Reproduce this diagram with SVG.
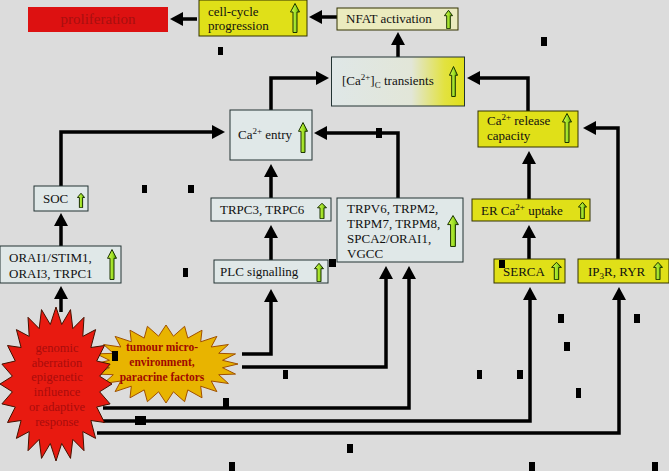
<svg xmlns="http://www.w3.org/2000/svg" xmlns:xlink="http://www.w3.org/1999/xlink" width="669" height="471" viewBox="0 0 669 471">
<defs>
<style>
.t{font-family:"Liberation Serif","Times New Roman",serif;font-size:13px;fill:#111}
.lb{fill:#e0e8e8;stroke:#223333;stroke-width:1}
.yb{fill:#e0e018;stroke:#333300;stroke-width:1}
.c{fill:none;stroke:#000;stroke-width:3.5;marker-end:url(#ah)}
.n{fill:#000}
.rt{font-family:"Liberation Serif","Times New Roman",serif;font-size:12.5px;fill:#a80c0c;text-anchor:middle}
.ot{font-family:"Liberation Serif","Times New Roman",serif;font-size:11.5px;font-weight:bold;fill:#a00800;text-anchor:middle}
</style>
<marker id="ah" markerUnits="userSpaceOnUse" markerWidth="14" markerHeight="14" refX="9" refY="7" orient="auto">
<path d="M0,0 L13,7 L0,14 Z" fill="#000"/>
</marker>
<linearGradient id="gg" x1="0" y1="0" x2="1" y2="0">
<stop offset="0" stop-color="#ddff55"/>
<stop offset="0.6" stop-color="#99dd22"/>
<stop offset="1" stop-color="#448800"/>
</linearGradient>
<linearGradient id="tg" x1="0" y1="0" x2="1" y2="0">
<stop offset="0" stop-color="#dfe7e7"/>
<stop offset="0.6" stop-color="#e2e6d8"/>
<stop offset="0.85" stop-color="#e2e240"/>
<stop offset="1" stop-color="#e0e018"/>
</linearGradient>
<symbol id="up" viewBox="0 0 10 30" preserveAspectRatio="none">
<path d="M5,0.5 L9.5,9 L7,9 L7,29.5 L3,29.5 L3,9 L0.5,9 Z" fill="url(#gg)" stroke="#1a3300" stroke-width="1" vector-effect="non-scaling-stroke"/>
</symbol>
</defs>
<rect x="0" y="0" width="669" height="471" fill="#dcdcdc"/>

<g id="connectors">
<path class="c" d="M197,19 H174"/>
<path class="c" d="M337,17 H313"/>
<path class="c" d="M398,57 V36"/>
<path class="c" d="M271,110 V78 H325"/>
<path class="c" d="M528,111 V78 H471"/>
<path class="c" d="M61,186 V132 H221"/>
<path class="c" d="M271,198 V168"/>
<path class="c" d="M398,198 V133 H318"/>
<path class="c" d="M271,260 V229"/>
<path class="c" d="M242,354 H271 V293"/>
<path class="c" d="M242,367 H386 V270"/>
<path class="c" d="M103,408 H409 V270"/>
<path class="c" d="M103,421 H530 V291"/>
<path class="c" d="M97,433 H619 V291"/>
<path class="c" d="M61,312 V290"/>
<path class="c" d="M61,246 V217"/>
<path class="c" d="M529,259 V229"/>
<path class="c" d="M529,199 V155"/>
<path class="c" d="M618,259 V128 H587"/>
</g>

<g id="proliferation">
<rect x="28" y="7" width="140" height="25" fill="#dd1111"/>
<text x="98" y="24" style="font-family:'Liberation Serif',serif;font-size:15px;fill:#a80f0f;text-anchor:middle">proliferation</text>
</g>

<g id="cellcycle">
<rect class="yb" x="199" y="0" width="108" height="36"/>
<text class="t" x="208" y="16">cell-cycle</text>
<text class="t" x="208" y="30">progression</text>
<use xlink:href="#up" x="290" y="3" width="10" height="30"/>
</g>

<g id="nfat">
<rect x="337" y="8" width="121" height="22" fill="#ebebbe" stroke="#333300" stroke-width="1"/>
<text class="t" x="346" y="23">NFAT activation</text>
<use xlink:href="#up" x="444" y="10" width="9" height="19"/>
</g>

<g id="transients">
<rect x="331.5" y="57" width="133" height="49" fill="url(#tg)" stroke="#223333" stroke-width="1"/>
<text class="t" x="342" y="85">[Ca<tspan font-size="9" dy="-5">2+</tspan><tspan dy="5">]</tspan><tspan font-size="9" dy="3">C</tspan><tspan dy="-3"> transients</tspan></text>
<use xlink:href="#up" x="449" y="66" width="9" height="31"/>
</g>

<g id="entry">
<rect class="lb" x="230" y="110" width="82" height="50"/>
<text class="t" x="238" y="139">Ca<tspan font-size="9" dy="-5">2+</tspan><tspan dy="5"> entry</tspan></text>
<use xlink:href="#up" x="298" y="122" width="10" height="31"/>
</g>

<g id="release">
<rect class="yb" x="478" y="111" width="100" height="36"/>
<text class="t" x="487" y="125">Ca<tspan font-size="9" dy="-5">2+</tspan><tspan dy="5"> release</tspan></text>
<text class="t" x="487" y="140">capacity</text>
<use xlink:href="#up" x="562" y="113" width="10" height="30"/>
</g>

<g id="soc">
<rect class="lb" x="34" y="186" width="54" height="25"/>
<text class="t" x="43" y="203">SOC</text>
<use xlink:href="#up" x="77" y="193" width="8" height="15"/>
</g>

<g id="trpc3">
<rect class="lb" x="211" y="198" width="120" height="23"/>
<text class="t" x="220" y="214">TRPC3, TRPC6</text>
<use xlink:href="#up" x="317" y="203" width="10" height="16"/>
</g>

<g id="trpv6">
<rect class="lb" x="337" y="198" width="126" height="64"/>
<text class="t" x="347" y="213">TRPV6, TRPM2,</text>
<text class="t" x="347" y="228">TRPM7, TRPM8,</text>
<text class="t" x="347" y="243">SPCA2/ORAI1,</text>
<text class="t" x="347" y="258">VGCC</text>
<use xlink:href="#up" x="447" y="215" width="12" height="32"/>
</g>

<g id="er">
<rect class="yb" x="472" y="199" width="118" height="22"/>
<text class="t" x="481" y="215">ER Ca<tspan font-size="9" dy="-5">2+</tspan><tspan dy="5"> uptake</tspan></text>
<use xlink:href="#up" x="578" y="202" width="9" height="17"/>
</g>

<g id="orai">
<rect class="lb" x="0" y="246" width="121" height="37"/>
<text class="t" x="9" y="262">ORAI1/STIM1,</text>
<text class="t" x="9" y="278">ORAI3, TRPC1</text>
<use xlink:href="#up" x="107" y="249" width="10" height="31"/>
</g>

<g id="plc">
<rect class="lb" x="214" y="260" width="114" height="23"/>
<text class="t" x="220" y="276">PLC signalling</text>
<use xlink:href="#up" x="314" y="263" width="10" height="19"/>
</g>

<g id="serca">
<rect class="yb" x="494" y="259" width="71" height="24"/>
<text class="t" x="503" y="276">SERCA</text>
<use xlink:href="#up" x="551" y="262" width="11" height="18"/>
</g>

<g id="ip3r">
<rect class="yb" x="578" y="259" width="91" height="24"/>
<text class="t" x="588" y="276">IP<tspan font-size="9" dy="3">3</tspan><tspan dy="-3">R, RYR</tspan></text>
<use xlink:href="#up" x="653" y="262" width="10" height="18"/>
</g>

<g id="tumour">
<polygon fill="#e8b400" stroke="#a05000" stroke-width="1" points="238,364 222.5,367.7 235.5,374.1 218.7,374.7 228.4,383.5 211.2,381 216.9,391.6 200.7,386.2 202,397.8 187.8,389.9 184.6,401.7 173.4,391.8 166,403 158.6,391.8 147.4,401.7 144.2,389.9 130,397.8 131.3,386.2 115.1,391.6 120.8,381 103.6,383.5 113.3,374.7 96.5,374.1 109.5,367.7 94,364 109.5,360.3 96.5,353.9 113.3,353.3 103.6,344.5 120.8,347 115.1,336.4 131.3,341.8 130,330.2 144.2,338.1 147.4,326.3 158.6,336.2 166,325 173.4,336.2 184.6,326.3 187.8,338.1 202,330.2 200.7,341.8 216.9,336.4 211.2,347 228.4,344.5 218.7,353.3 235.5,353.9 222.5,360.3"/>
</g>

<g id="genomic">
<polygon fill="#e81a10" stroke="#441100" stroke-width="1" points="112,384 99.6,391.8 110.1,403.9 96.7,407 104.5,422.5 90.9,420.5 95.6,438.4 82.8,431.6 84,450.7 72.8,439.4 70.5,458.4 61.7,443.5 56,461 50.3,443.5 41.5,458.4 39.2,439.4 28,450.7 29.2,431.6 16.4,438.4 21.1,420.5 7.5,422.5 15.3,407 1.9,403.9 12.4,391.8 0,384 12.4,376.2 1.9,364.1 15.3,361 7.5,345.5 21.1,347.5 16.4,329.6 29.2,336.4 28,317.3 39.2,328.6 41.5,309.6 50.3,324.5 56,307 61.7,324.5 70.5,309.6 72.8,328.6 84,317.3 82.8,336.4 95.6,329.6 90.9,347.5 104.5,345.5 96.7,361 110.1,364.1 99.6,376.2"/>
<text class="rt" x="57" y="352">genomic</text>
<text class="rt" x="57" y="367">aberration</text>
<text class="rt" x="57" y="381">epigenetic</text>
<text class="rt" x="57" y="396">influence</text>
<text class="rt" x="57" y="411">or adaptive</text>
<text class="rt" x="57" y="426">response</text>
</g>

<g id="tumourtext">
<text class="ot" x="162" y="351">tumour micro-</text>
<text class="ot" x="162" y="366">environment,</text>
<text class="ot" x="162" y="381">paracrine factors</text>
</g>

<g id="marks">
<rect class="n" x="218" y="47" width="5" height="8"/>
<rect class="n" x="541" y="37" width="6" height="9"/>
<rect class="n" x="142" y="185" width="5" height="8"/>
<rect class="n" x="188" y="185" width="6" height="8"/>
<rect class="n" x="183" y="268" width="5" height="9"/>
<rect class="n" x="376" y="128" width="6" height="10"/>
<rect class="n" x="329" y="259" width="7" height="8"/>
<rect class="n" x="499" y="260" width="6" height="8"/>
<rect class="n" x="112" y="351" width="6" height="10"/>
<rect class="n" x="283" y="370" width="5" height="9"/>
<rect class="n" x="223" y="398" width="6" height="9"/>
<rect class="n" x="135" y="416" width="11" height="9"/>
<rect class="n" x="229" y="462" width="6" height="9"/>
<rect class="n" x="558" y="314" width="6" height="9"/>
<rect class="n" x="634" y="314" width="6" height="9"/>
<rect class="n" x="564" y="342" width="6" height="9"/>
<rect class="n" x="477" y="370" width="5" height="9"/>
<rect class="n" x="517" y="370" width="6" height="9"/>
<rect class="n" x="576" y="388" width="5" height="10"/>
<rect class="n" x="347" y="444" width="6" height="9"/>
<rect class="n" x="529" y="462" width="6" height="9"/>
<rect class="n" x="652" y="462" width="6" height="9"/>
</g>
</svg>
